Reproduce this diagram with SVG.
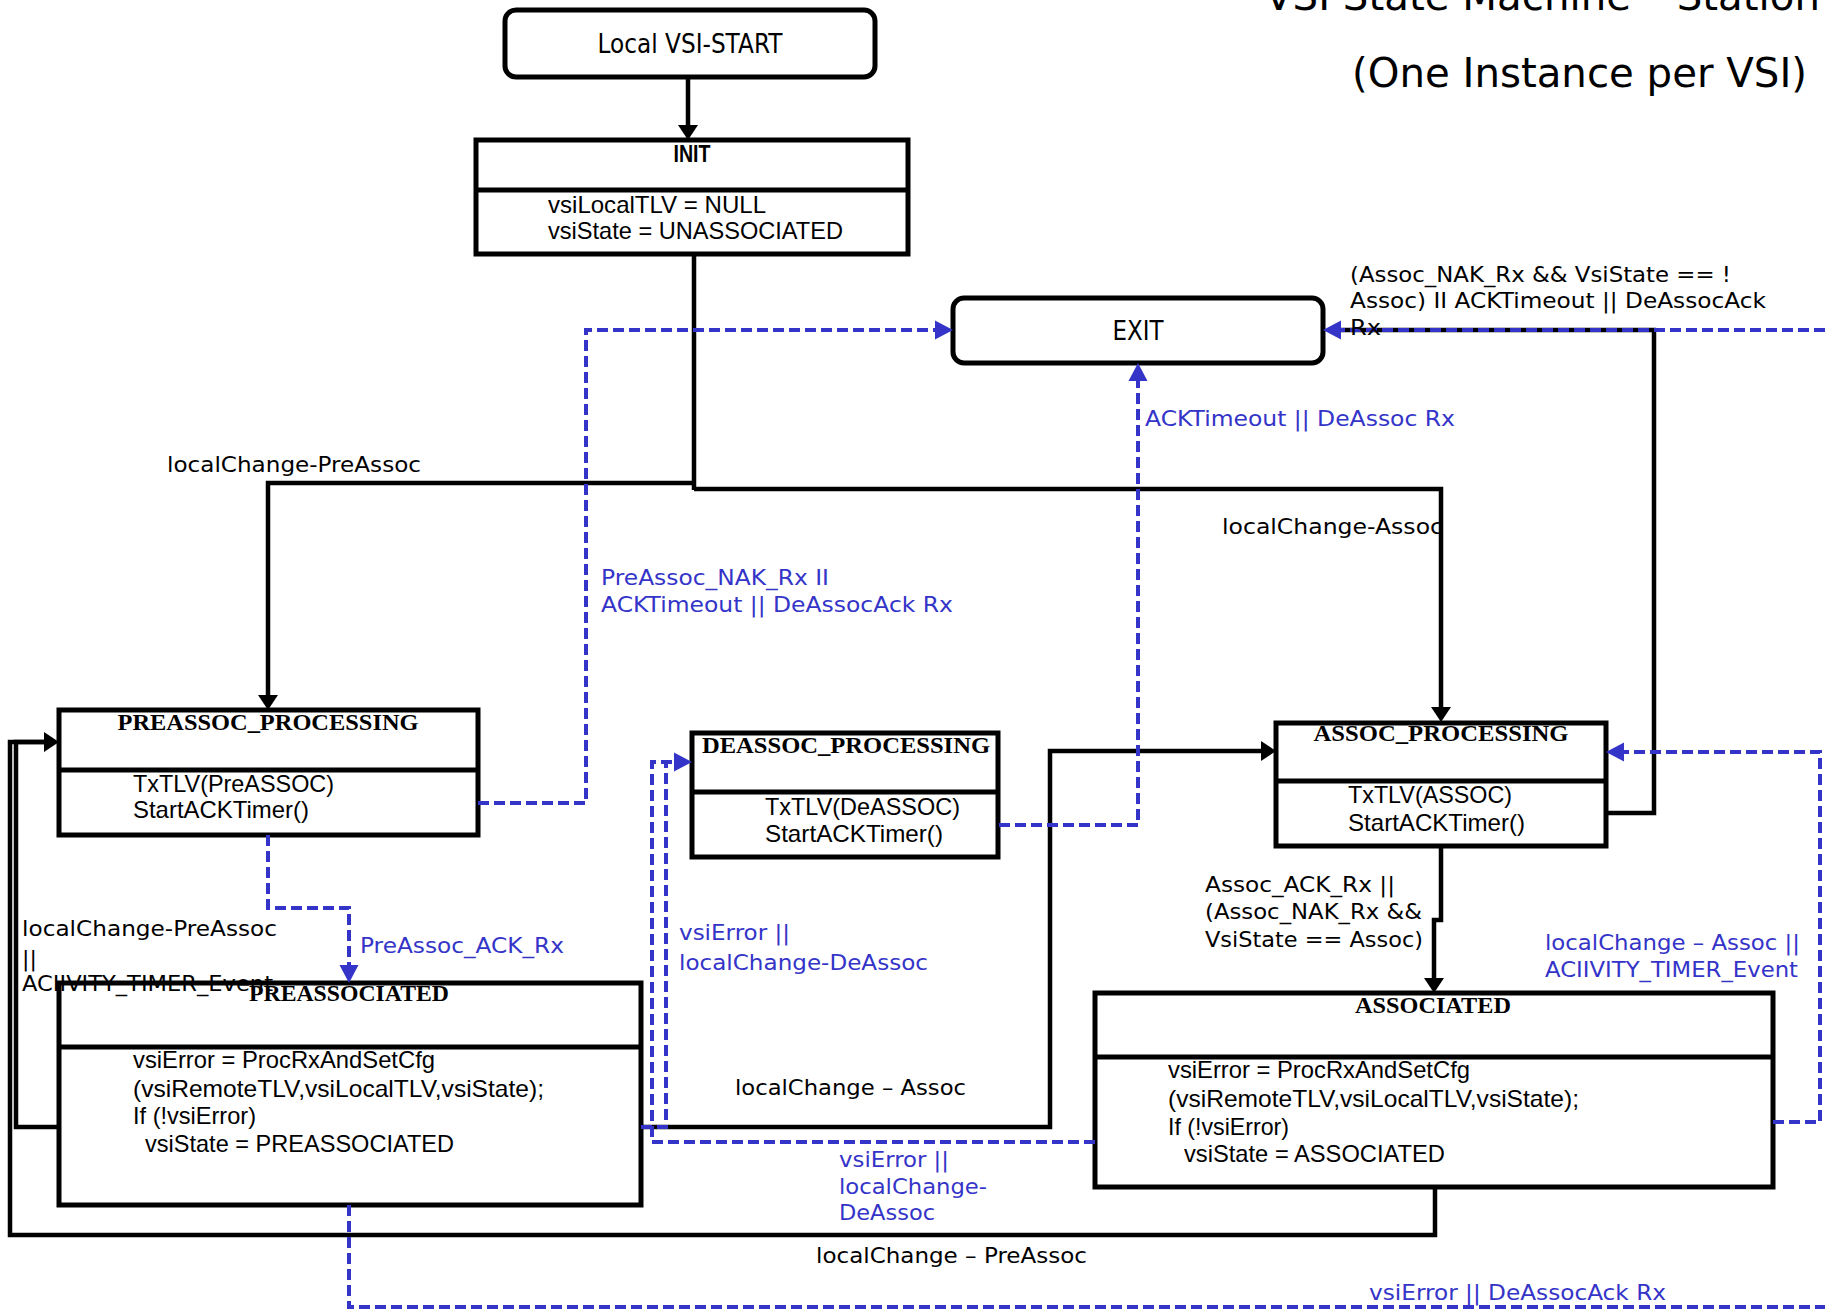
<svg xmlns="http://www.w3.org/2000/svg" width="1825" height="1313" viewBox="0 0 1825 1313">
  <style>
    .box { fill: #ffffff; stroke: #000000; stroke-width: 5; }
    .div { stroke: #000000; stroke-width: 5; }
    .wire { fill: none; stroke: #000000; stroke-width: 4.5; stroke-linejoin: miter; }
    .dash { fill: none; stroke: #3434c8; stroke-width: 4; stroke-dasharray: 11 5; stroke-linejoin: miter; }
    .lbl { font-family: "DejaVu Sans", "Liberation Sans", sans-serif; font-size: 22px; fill: #000000; }
    .blue { fill: #3434c8; }
    .body { font-family: "Liberation Sans", Arial, sans-serif; font-size: 24px; fill: #000000; }
    .ttl { font-family: "Liberation Serif", "Times New Roman", serif; font-weight: bold; font-size: 23px; fill: #000000; }
    .name { font-family: "DejaVu Sans", "Liberation Sans", sans-serif; font-size: 27px; fill: #000000; }
    .head { font-family: "DejaVu Sans", "Liberation Sans", sans-serif; font-size: 41px; fill: #000000; }
  </style>
  <defs>
    <marker id="ahBlack" markerUnits="userSpaceOnUse" markerWidth="22" markerHeight="22" refX="9" refY="10" orient="auto" overflow="visible">
      <path d="M0,0 L15,10 L0,20 z" fill="#000000"/>
    </marker>
    <marker id="ahBlue" markerUnits="userSpaceOnUse" markerWidth="22" markerHeight="22" refX="12" refY="9.5" orient="auto" overflow="visible">
      <path d="M0,0 L18,9.5 L0,19 z" fill="#3434c8"/>
    </marker>
  </defs>

  <rect width="1825" height="1313" fill="#ffffff"/>

  <!-- heading -->
  <text class="head" x="1265" y="10" textLength="555" lengthAdjust="spacingAndGlyphs">VSI State Machine – Station</text>
  <text class="head" x="1352" y="87" textLength="455" lengthAdjust="spacingAndGlyphs">(One Instance per VSI)</text>

  <!-- states -->
  <g id="local-vsi-start">
    <rect class="box" x="505" y="10" width="370" height="67" rx="11"/>
    <text class="name" x="690" y="53" text-anchor="middle" textLength="185" lengthAdjust="spacingAndGlyphs">Local VSI-START</text>
  </g>

  <g id="init">
    <rect class="box" x="476" y="140" width="432" height="114"/>
    <line class="div" x1="476" y1="190" x2="908" y2="190"/>
    <text class="body" x="692" y="162" text-anchor="middle" font-weight="bold" textLength="37" lengthAdjust="spacingAndGlyphs">INIT</text>
    <text class="body" x="548" y="213" textLength="218" lengthAdjust="spacingAndGlyphs">vsiLocalTLV = NULL</text>
    <text class="body" x="548" y="239" textLength="295" lengthAdjust="spacingAndGlyphs">vsiState = UNASSOCIATED</text>
  </g>

  <g id="exit">
    <rect class="box" x="953" y="298" width="370" height="65" rx="11"/>
    <text class="name" x="1138" y="340" text-anchor="middle" textLength="51" lengthAdjust="spacingAndGlyphs">EXIT</text>
  </g>

  <g id="preassoc-processing">
    <rect class="box" x="59" y="710" width="419" height="125"/>
    <line class="div" x1="59" y1="770" x2="478" y2="770"/>
    <text class="ttl" x="268" y="730" text-anchor="middle" textLength="301" lengthAdjust="spacingAndGlyphs">PREASSOC_PROCESSING</text>
    <text class="body" x="133" y="792" textLength="201" lengthAdjust="spacingAndGlyphs">TxTLV(PreASSOC)</text>
    <text class="body" x="133" y="818" textLength="176" lengthAdjust="spacingAndGlyphs">StartACKTimer()</text>
  </g>

  <g id="deassoc-processing">
    <rect class="box" x="692" y="733" width="306" height="124"/>
    <line class="div" x1="692" y1="792" x2="998" y2="792"/>
    <text class="ttl" x="846" y="753" text-anchor="middle" textLength="288" lengthAdjust="spacingAndGlyphs">DEASSOC_PROCESSING</text>
    <text class="body" x="765" y="815" textLength="195" lengthAdjust="spacingAndGlyphs">TxTLV(DeASSOC)</text>
    <text class="body" x="765" y="842" textLength="178" lengthAdjust="spacingAndGlyphs">StartACKTimer()</text>
  </g>

  <g id="assoc-processing">
    <rect class="box" x="1276" y="723" width="330" height="123"/>
    <line class="div" x1="1276" y1="781" x2="1606" y2="781"/>
    <text class="ttl" x="1441" y="741" text-anchor="middle" textLength="255" lengthAdjust="spacingAndGlyphs">ASSOC_PROCESSING</text>
    <text class="body" x="1348" y="803" textLength="164" lengthAdjust="spacingAndGlyphs">TxTLV(ASSOC)</text>
    <text class="body" x="1348" y="831" textLength="177" lengthAdjust="spacingAndGlyphs">StartACKTimer()</text>
  </g>

  <g id="preassociated">
    <rect class="box" x="59" y="983" width="582" height="222"/>
    <line class="div" x1="59" y1="1047" x2="641" y2="1047"/>
    <text class="ttl" x="349" y="1001" text-anchor="middle" textLength="200" lengthAdjust="spacingAndGlyphs">PREASSOCIATED</text>
    <text class="body" x="133" y="1068" textLength="302" lengthAdjust="spacingAndGlyphs">vsiError = ProcRxAndSetCfg</text>
    <text class="body" x="133" y="1097" textLength="411" lengthAdjust="spacingAndGlyphs">(vsiRemoteTLV,vsiLocalTLV,vsiState);</text>
    <text class="body" x="133" y="1124" textLength="123" lengthAdjust="spacingAndGlyphs">If (!vsiError)</text>
    <text class="body" x="145" y="1152" textLength="309" lengthAdjust="spacingAndGlyphs">vsiState = PREASSOCIATED</text>
  </g>

  <g id="associated">
    <rect class="box" x="1095" y="993" width="678" height="194"/>
    <line class="div" x1="1095" y1="1057" x2="1773" y2="1057"/>
    <text class="ttl" x="1433" y="1013" text-anchor="middle" textLength="156" lengthAdjust="spacingAndGlyphs">ASSOCIATED</text>
    <text class="body" x="1168" y="1078" textLength="302" lengthAdjust="spacingAndGlyphs">vsiError = ProcRxAndSetCfg</text>
    <text class="body" x="1168" y="1107" textLength="411" lengthAdjust="spacingAndGlyphs">(vsiRemoteTLV,vsiLocalTLV,vsiState);</text>
    <text class="body" x="1168" y="1135" textLength="121" lengthAdjust="spacingAndGlyphs">If (!vsiError)</text>
    <text class="body" x="1184" y="1162" textLength="261" lengthAdjust="spacingAndGlyphs">vsiState = ASSOCIATED</text>
  </g>

  <!-- transitions -->
  <g id="connectors">
    <!-- solid transitions -->
    <path class="wire" d="M688,77 V134" marker-end="url(#ahBlack)"/>
    <path class="wire" d="M694,254 V490"/>
    <path class="wire" d="M694,483 H268 V704" marker-end="url(#ahBlack)"/>
    <path class="wire" d="M694,489 H1441 V716" marker-end="url(#ahBlack)"/>
    <path class="wire" d="M1606,813 H1654 V330 H1330"/>
    <path class="wire" d="M1441,846 V920 H1434 V987" marker-end="url(#ahBlack)"/>
    <path class="wire" d="M641,1127 H1050 V751 H1270" marker-end="url(#ahBlack)"/>
    <path class="wire" d="M59,1127 H16 V742 H53" marker-end="url(#ahBlack)"/>
    <path class="wire" d="M1435,1187 V1235 H10 V742 H53"/>

    <!-- dashed transitions -->
    <path class="dash" d="M478,803 H586 V330 H947" marker-end="url(#ahBlue)"/>
    <path class="dash" d="M999,825 H1138 V369" marker-end="url(#ahBlue)"/>
    <path class="dash" d="M1825,330 H1329" marker-end="url(#ahBlue)"/>
    <path class="dash" d="M1773,1122 H1820 V752 H1612" marker-end="url(#ahBlue)"/>
    <path class="dash" d="M1095,1142 H652 V762 H686" marker-end="url(#ahBlue)"/>
    <path class="dash" d="M641,1127 H666 V762"/>
    <path class="dash" d="M268,835 V908 H349 V977" marker-end="url(#ahBlue)"/>
    <path class="dash" d="M349,1205 V1307 H1825"/>
  </g>

  <!-- transition labels -->
  <g id="labels">
    <text class="lbl" x="167" y="472" textLength="254" lengthAdjust="spacingAndGlyphs">localChange-PreAssoc</text>
    <text class="lbl" x="1222" y="534" textLength="221" lengthAdjust="spacingAndGlyphs">localChange-Assoc</text>
    <text class="lbl" x="1350" y="282" textLength="381" lengthAdjust="spacingAndGlyphs">(Assoc_NAK_Rx &amp;&amp; VsiState == !</text>
    <text class="lbl" x="1350" y="308" textLength="416" lengthAdjust="spacingAndGlyphs">Assoc) II ACKTimeout || DeAssocAck</text>
    <text class="lbl" x="1350" y="335" textLength="31" lengthAdjust="spacingAndGlyphs">Rx</text>
    <text class="lbl" x="1205" y="892" textLength="190" lengthAdjust="spacingAndGlyphs">Assoc_ACK_Rx ||</text>
    <text class="lbl" x="1205" y="919" textLength="217" lengthAdjust="spacingAndGlyphs">(Assoc_NAK_Rx &amp;&amp;</text>
    <text class="lbl" x="1205" y="947" textLength="218" lengthAdjust="spacingAndGlyphs">VsiState == Assoc)</text>
    <text class="lbl" x="22" y="936" textLength="255" lengthAdjust="spacingAndGlyphs">localChange-PreAssoc</text>
    <text class="lbl" x="22" y="966">||</text>
    <text class="lbl" x="22" y="991" textLength="251" lengthAdjust="spacingAndGlyphs">ACIIVITY_TIMER_Event</text>
    <text class="lbl" x="735" y="1095" textLength="231" lengthAdjust="spacingAndGlyphs">localChange – Assoc</text>
    <text class="lbl" x="816" y="1263" textLength="271" lengthAdjust="spacingAndGlyphs">localChange – PreAssoc</text>

    <text class="lbl blue" x="601" y="585" textLength="228" lengthAdjust="spacingAndGlyphs">PreAssoc_NAK_Rx II</text>
    <text class="lbl blue" x="601" y="612" textLength="352" lengthAdjust="spacingAndGlyphs">ACKTimeout || DeAssocAck Rx</text>
    <text class="lbl blue" x="1145" y="426" textLength="310" lengthAdjust="spacingAndGlyphs">ACKTimeout || DeAssoc Rx</text>
    <text class="lbl blue" x="360" y="953" textLength="204" lengthAdjust="spacingAndGlyphs">PreAssoc_ACK_Rx</text>
    <text class="lbl blue" x="679" y="940" textLength="111" lengthAdjust="spacingAndGlyphs">vsiError ||</text>
    <text class="lbl blue" x="679" y="970" textLength="249" lengthAdjust="spacingAndGlyphs">localChange-DeAssoc</text>
    <text class="lbl blue" x="1545" y="950" textLength="255" lengthAdjust="spacingAndGlyphs">localChange – Assoc ||</text>
    <text class="lbl blue" x="1545" y="977" textLength="253" lengthAdjust="spacingAndGlyphs">ACIIVITY_TIMER_Event</text>
    <text class="lbl blue" x="839" y="1167" textLength="110" lengthAdjust="spacingAndGlyphs">vsiError ||</text>
    <text class="lbl blue" x="839" y="1194" textLength="148" lengthAdjust="spacingAndGlyphs">localChange-</text>
    <text class="lbl blue" x="839" y="1220" textLength="96" lengthAdjust="spacingAndGlyphs">DeAssoc</text>
    <text class="lbl blue" x="1369" y="1300" textLength="297" lengthAdjust="spacingAndGlyphs">vsiError || DeAssocAck Rx</text>
  </g>
</svg>
